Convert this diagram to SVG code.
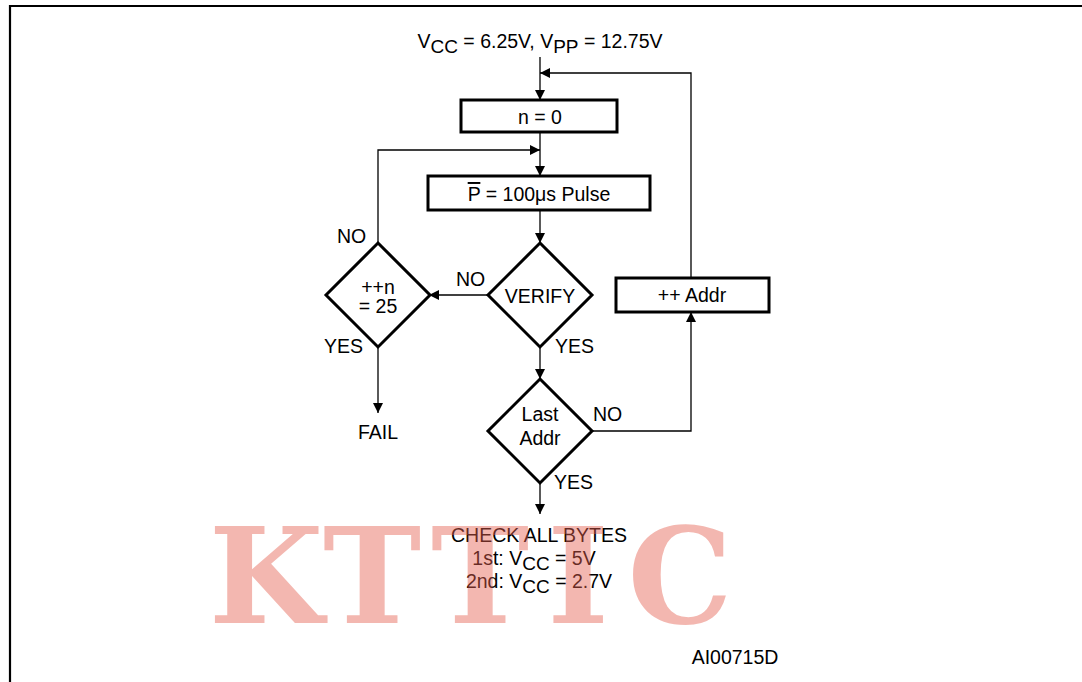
<svg xmlns="http://www.w3.org/2000/svg" width="1082" height="682" viewBox="0 0 1082 682">
<style>
text{font-family:"Liberation Sans",Arial,sans-serif;font-size:19.5px;fill:#000}
.c{text-anchor:middle}
.box{fill:#fff;stroke:#000;stroke-width:3}
.dia{fill:#fff;stroke:#000;stroke-width:3}
.ln{fill:none;stroke:#000;stroke-width:1.3}
.sub{font-size:19px}
.wm{font-family:"DejaVu Serif","Liberation Serif",serif;font-weight:bold;font-size:132px;fill:#e5604f;fill-opacity:0.45;text-anchor:middle}
</style>
<defs>
<marker id="ah" viewBox="0 0 10 10" refX="10" refY="5" markerWidth="10" markerHeight="10" markerUnits="userSpaceOnUse" orient="auto">
<path d="M0,0 L10,5 L0,10 z" fill="#000"/>
</marker>
</defs>
<rect width="1082" height="682" fill="#fff"/>
<path d="M10,682 V6 H1082" fill="none" stroke="#000" stroke-width="2.2"/>
<g id="connectors">
<path class="ln" d="M540,57 V100" marker-end="url(#ah)"/>
<path class="ln" d="M691,278 V73 H540" marker-end="url(#ah)"/>
<path class="ln" d="M540,132 V176" marker-end="url(#ah)"/>
<path class="ln" d="M378,243 V150 H540" marker-end="url(#ah)"/>
<path class="ln" d="M540,210 V243" marker-end="url(#ah)"/>
<path class="ln" d="M487,295 H429" marker-end="url(#ah)"/>
<path class="ln" d="M378,347 V413" marker-end="url(#ah)"/>
<path class="ln" d="M540,347 V379" marker-end="url(#ah)"/>
<path class="ln" d="M591,431 H691 V312" marker-end="url(#ah)"/>
<path class="ln" d="M540,483 V514" marker-end="url(#ah)"/>
</g>
<g id="start">
<text class="c" x="540" y="48">V<tspan class="sub" dy="5">CC</tspan><tspan dy="-5"> = 6.25V, V</tspan><tspan class="sub" dy="5">PP</tspan><tspan dy="-5"> = 12.75V</tspan></text>
</g>
<g id="n0">
<rect class="box" x="461" y="100" width="156" height="32"/>
<text class="c" x="540" y="124">n = 0</text>
</g>
<g id="pulse">
<rect class="box" x="428" y="176" width="222" height="34"/>
<text class="c" x="539" y="201"><tspan text-decoration="overline">P</tspan> = 100μs Pulse</text>
</g>
<g id="verify">
<path class="dia" d="M540,243 L592,295 L540,347 L488,295 Z"/>
<text class="c" x="540" y="303" font-size="20.5">VERIFY</text>
<text x="456" y="286">NO</text>
<text x="555" y="353">YES</text>
</g>
<g id="count">
<path class="dia" d="M378,243 L430,295 L378,347 L326,295 Z"/>
<text class="c" x="378" y="294">++n</text>
<text class="c" x="378" y="313">= 25</text>
<text x="337" y="243">NO</text>
<text x="324" y="353">YES</text>
</g>
<g id="fail">
<text class="c" x="378" y="439">FAIL</text>
</g>
<g id="last">
<path class="dia" d="M540,379 L592,431 L540,483 L488,431 Z"/>
<text class="c" x="540" y="421">Last</text>
<text class="c" x="540" y="445">Addr</text>
<text x="593" y="421">NO</text>
<text x="554" y="489">YES</text>
</g>
<g id="addr">
<rect class="box" x="616" y="278" width="153" height="34"/>
<text class="c" x="692" y="302">++ Addr</text>
</g>
<g id="check">
<text class="c" x="539" y="542" font-size="20">CHECK ALL BYTES</text>
<text class="c" x="534" y="565">1st: V<tspan class="sub" dy="5">CC</tspan><tspan dy="-5"> = 5V</tspan></text>
<text class="c" x="539" y="588">2nd: V<tspan class="sub" dy="5">CC</tspan><tspan dy="-5"> = 2.7V</tspan></text>
</g>
<text class="c" x="735" y="664" font-size="14">AI00715D</text>
<text class="wm" x="266 372 480 578 680" y="623">KTTIC</text>
</svg>
